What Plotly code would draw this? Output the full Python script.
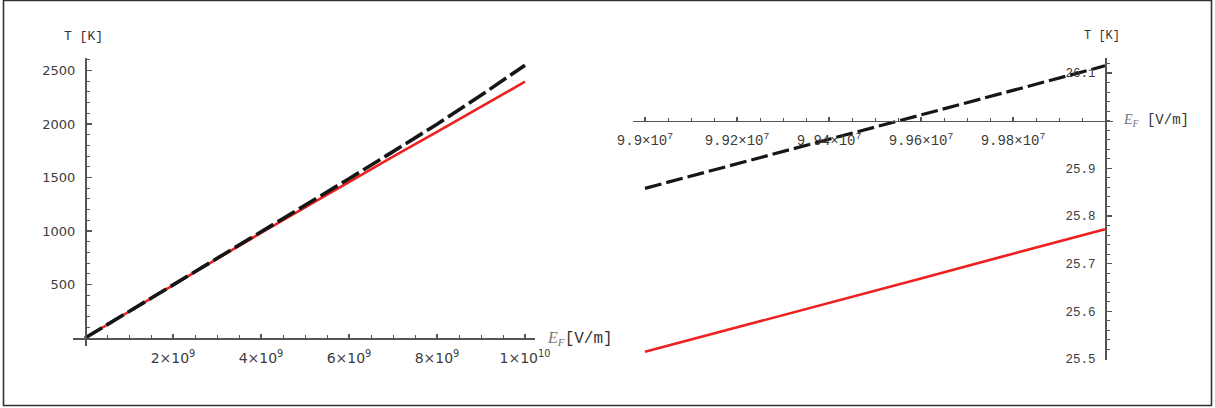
import numpy as np
import plotly.graph_objects as go

# ---------------- data ----------------
left_E = [0, 1e9, 2e9, 3e9, 4e9, 5e9, 6e9, 7e9, 8e9, 9e9, 1e10]
left_T_red = [0, 248, 495, 740, 982, 1222, 1460, 1695, 1927, 2162, 2395]
left_T_black = [0, 247, 494, 740, 987, 1236, 1488, 1742, 1998, 2268, 2550]
left_xtick_vals = [2e9, 4e9, 6e9, 8e9, 1e10]
left_xtick_text = ["2×10<sup>9</sup>", "4×10<sup>9</sup>", "6×10<sup>9</sup>",
                   "8×10<sup>9</sup>", "1×10<sup>10</sup>"]
left_ytick_vals = [500, 1000, 1500, 2000, 2500]
left_ytick_text = ["500", "1000", "1500", "2000", "2500"]

right_E = [9.9e7, 9.92e7, 9.94e7, 9.96e7, 9.98e7, 1e8]
right_T_red = [25.515, 25.566, 25.618, 25.669, 25.721, 25.772]
right_T_black = [25.858, 25.910, 25.961, 26.012, 26.064, 26.115]
right_xtick_vals = [9.9e7, 9.92e7, 9.94e7, 9.96e7, 9.98e7]
right_xtick_text = ["9.9×10<sup>7</sup>", "9.92×10<sup>7</sup>", "9.94×10<sup>7</sup>",
                    "9.96×10<sup>7</sup>", "9.98×10<sup>7</sup>"]
right_ytick_vals = [25.5, 25.6, 25.7, 25.8, 25.9, 26.1]
right_ytick_text = ["25.5", "25.6", "25.7", "25.8", "25.9", "26.1"]

# ---------------- layout helpers ----------------
W, H = 1215, 408
def PX(px):
    return px / W
def PY(py):
    return 1 - py / H

AX = "#555555"
TXT = "#3c3c3c"
RED = "#ee2020"
BLK = "#161616"

# left panel geometry
lx_dom = [PX(73), PX(535)]
lx_rng = [-12 / 88 * 2e9, (535 - 85) / 88 * 2e9]
ly_dom = [PY(346), PY(58)]
ly_rng = [-8 / 53.5 * 500, (338 - 58) / 53.5 * 500]

# right panel geometry
rx_dom = [PX(633), PX(1113)]
rx_rng = [9.9e7 - 12 / 92 * 2e5, 1e8 + 8 / 92 * 2e5]
ry_dom = [PY(360), PY(58)]
ry_rng = [25.5 - 1 / 47.8 * 0.1, 26.1 + 15 / 47.8 * 0.1]

def cross(dom, rng, v):
    return dom[0] + (v - rng[0]) / (rng[1] - rng[0]) * (dom[1] - dom[0])

fig = go.Figure()

fig.add_trace(go.Scatter(x=left_E, y=left_T_red, mode="lines",
                         line=dict(color=RED, width=2.6), xaxis="x", yaxis="y"))
fig.add_trace(go.Scatter(x=left_E, y=left_T_black, mode="lines",
                         line=dict(color=BLK, width=3.6, dash="20px,5px"),
                         xaxis="x", yaxis="y"))
fig.add_trace(go.Scatter(x=right_E, y=right_T_red, mode="lines",
                         line=dict(color=RED, width=2.6), xaxis="x2", yaxis="y2"))
fig.add_trace(go.Scatter(x=right_E, y=right_T_black, mode="lines",
                         line=dict(color=BLK, width=3.2, dash="17px,5px"),
                         xaxis="x2", yaxis="y2"))

common = dict(showgrid=False, zeroline=False, showline=True, linecolor=AX,
              linewidth=1.5, ticks="inside", tickcolor=AX, tickwidth=1.2,
              tickmode="array", fixedrange=True, automargin=False)

fig.update_layout(
    template=None,
    width=W, height=H, autosize=False, margin=dict(l=0, r=0, t=0, b=0, pad=0),
    paper_bgcolor="white", plot_bgcolor="rgba(0,0,0,0)",
    showlegend=False, hovermode=False,
    xaxis=dict(**common, domain=lx_dom, range=lx_rng, anchor="free",
               position=cross(ly_dom, ly_rng, 0),
               tickvals=left_xtick_vals, ticktext=left_xtick_text, ticklen=4,
               ticklabelstandoff=7,
               tickfont=dict(family="DejaVu Sans", size=14, color=TXT),
               minor=dict(tickmode="linear", tick0=0, dtick=5e8, ticks="inside",
                          ticklen=3, tickcolor=AX, tickwidth=1)),
    yaxis=dict(**common, domain=ly_dom, range=ly_rng, anchor="free",
               position=cross(lx_dom, lx_rng, 0),
               tickvals=left_ytick_vals, ticktext=left_ytick_text, ticklen=5,
               ticklabelstandoff=7,
               tickfont=dict(family="DejaVu Sans", size=13, color=TXT),
               minor=dict(tickmode="linear", tick0=0, dtick=100, ticks="inside",
                          ticklen=3, tickcolor=AX, tickwidth=1)),
    xaxis2=dict(**common, domain=rx_dom, range=rx_rng, anchor="free",
                position=cross(ry_dom, ry_rng, 26.0),
                tickvals=right_xtick_vals, ticktext=right_xtick_text, ticklen=4,
                ticklabelstandoff=6,
                tickfont=dict(family="Liberation Mono", size=14, color=TXT),
                minor=dict(tickmode="linear", tick0=9.9e7, dtick=5e4, ticks="inside",
                           ticklen=3, tickcolor=AX, tickwidth=1)),
    yaxis2=dict(**common, domain=ry_dom, range=ry_rng, anchor="free",
                position=cross(rx_dom, rx_rng, 1e8),
                tickvals=right_ytick_vals, ticktext=right_ytick_text, ticklen=5,
                ticklabelstandoff=7,
                tickfont=dict(family="Liberation Mono", size=12.5, color=TXT),
                minor=dict(tickmode="linear", tick0=25.5, dtick=0.02, ticks="inside",
                           ticklen=3, tickcolor=AX, tickwidth=1)),
)

ef_left = ('<span style="font-family:Liberation Serif;color:#777"><i>E</i>'
           '<sub><i>F</i></sub></span>[V/m]')
ef_right = ('<span style="font-family:Liberation Serif;color:#777"><i>E</i>'
            '<sub><i>F</i></sub></span> [V/m]')

annos = [
    dict(x=PX(83), y=PY(36), text="T [K]", xanchor="center", yanchor="middle",
         font=dict(family="Liberation Mono", size=13, color="#333")),
    dict(x=PX(1102), y=PY(36), text="T [K]", xanchor="center", yanchor="middle",
         font=dict(family="Liberation Mono", size=12, color="#333")),
    dict(x=PX(545), y=PY(338), text=ef_left, xanchor="left", yanchor="middle",
         font=dict(family="Liberation Mono", size=16, color="#333")),
    dict(x=PX(1121), y=PY(120), text=ef_right, xanchor="left", yanchor="middle",
         font=dict(family="Liberation Mono", size=14, color="#333")),
]
for a in annos:
    fig.add_annotation(xref="paper", yref="paper", showarrow=False, **a)

fig.add_shape(type="rect", xref="paper", yref="paper",
              x0=PX(3.5), x1=PX(1211.5), y0=PY(405.5), y1=PY(0.5),
              line=dict(color="#333333", width=1.6))

fig.write_html("out.html",
               config=dict(displayModeBar=False, staticPlot=True, responsive=False),
               post_script="document.body.style.margin='0';"
                           "document.body.style.overflow='hidden';")
